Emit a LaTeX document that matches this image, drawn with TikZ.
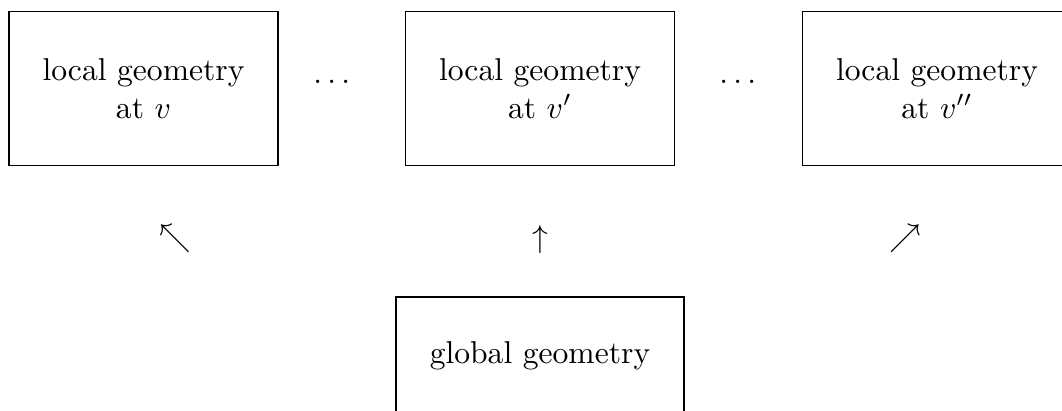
\documentclass[tikz,border=0pt]{standalone}
\usepackage{amsmath}
\usetikzlibrary{positioning}

\begin{document}
\begin{tikzpicture}[geom/.style={draw=black, minimum width=2.99cm, minimum height=1.72cm, align=center, inner sep=0pt},glob/.style={draw=black, minimum width=3.2cm, minimum height=1.31cm, inner sep=0pt},gap/.style={inner sep=0pt},lift/.style={inner sep=0pt}]
\useasboundingbox (0,0) rectangle (11.81,-4.56);
\node[geom] (locv) at (1.596,-0.984) {local geometry\\at $v$};\node[geom] (locvp) at (6.005,-0.984) {local geometry\\at $v'$};\node[geom] (locvpp) at (10.42,-0.984) {local geometry\\at $v''$};
\node[gap] (dotsL) at (3.720,-0.912) {$\dots$};\node[gap] (dotsR) at (8.235,-0.912) {$\dots$};
\node[lift] (upL) at (1.952,-2.658) {$\nwarrow$};\node[lift] (upM) at (6.005,-2.669) {$\uparrow$};\node[lift] (upR) at (10.07,-2.658) {$\nearrow$};
\node[glob] (global) at (6.005,-3.959) {global geometry};
\end{tikzpicture}
\end{document}
